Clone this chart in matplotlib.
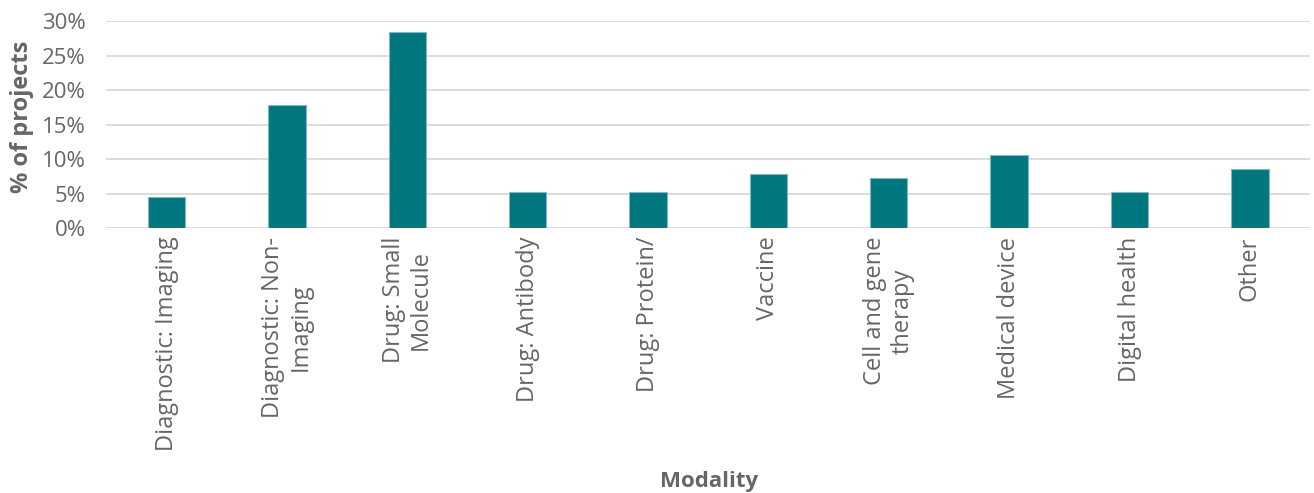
import matplotlib.pyplot as plt
from matplotlib.ticker import PercentFormatter

# Data
categories = ["Diagnostic: Imaging", "Diagnostic: Non-\nImaging", "Drug: Small\nMolecule",
              "Drug: Antibody", "Drug: Protein/", "Vaccine", "Cell and gene\ntherapy",
              "Medical device", "Digital health", "Other"]
pct_projects = [4.6, 17.9, 28.5, 5.3, 5.3, 7.9, 7.3, 10.6, 5.3, 8.6]

plt.rcParams['font.family'] = ['Open Sans', 'DejaVu Sans']
text_col = "#666666"

fig = plt.figure(figsize=(13.14, 4.93), dpi=100)
ax = fig.add_axes([0.081, 0.537, 0.916, 0.42])

x = range(len(categories))
ax.bar(x, pct_projects, width=0.31, color="#00767F", edgecolor="#7fb8bd", linewidth=0.8, zorder=3)

ax.set_ylim(0, 30)
ax.set_xlim(-0.5, len(categories) - 0.5)
ax.set_yticks(range(0, 31, 5))
ax.yaxis.set_major_formatter(PercentFormatter(decimals=0))
ax.grid(axis='y', color="#d9d9d9", linewidth=1.3, zorder=0)
for s in ax.spines.values():
    s.set_visible(False)
ax.tick_params(axis='both', length=0, colors=text_col)
ax.tick_params(axis='y', pad=15, labelsize=16)

ax.set_xticks(list(x))
ax.set_xticklabels(categories, rotation=90, ha='center', va='top', multialignment='center',
                   fontsize=17)
ax.tick_params(axis='x', pad=6)

ax.set_ylabel("% of projects", fontsize=17, fontweight='bold', color=text_col)
ax.yaxis.set_label_coords(-0.060, 0.54)
ax.set_xlabel("Modality", fontsize=16, fontweight='bold', color=text_col)
ax.xaxis.set_label_coords(0.501, -1.17)

fig.savefig("out.png", dpi=100)
